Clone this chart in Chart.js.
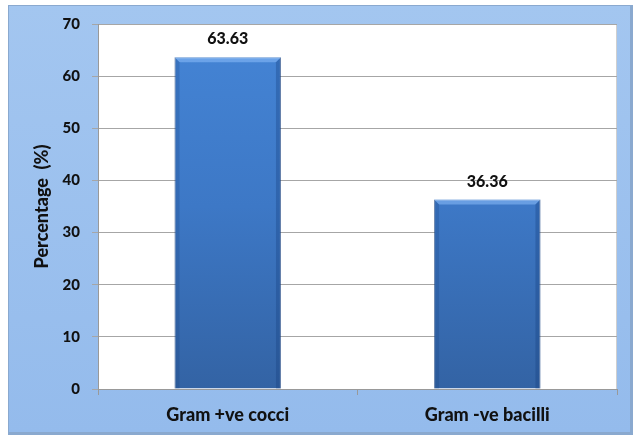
<!DOCTYPE html>
<html>
<head>
<meta charset="utf-8">
<script src="https://cdn.jsdelivr.net/npm/chart.js@4/dist/chart.umd.min.js"></script>
<style>
  html, body { margin: 0; padding: 0; background: #ffffff; }
  #wrap { width: 634px; height: 438px; position: relative; }
</style>
</head>
<body>
<div id="wrap"><canvas id="c" width="634" height="438"></canvas></div>
<script>
// Gram stain distribution of isolates
const categories = ['Gram +ve cocci', 'Gram -ve bacilli'];
const percentages = [63.63, 36.36];
const valueLabels = ['63.63', '36.36'];
const yTicks = [0, 10, 20, 30, 40, 50, 60, 70];

const FONT = 'Lato, "Open Sans", sans-serif';
const WEIGHT = '900';

// Blue panel behind the chart and white plotting area
const panelPlugin = {
  id: 'panel',
  beforeDraw(chart) {
    const ctx = chart.ctx;
    const a = chart.chartArea;
    ctx.save();
    ctx.fillStyle = '#ffffff';
    ctx.fillRect(0, 0, chart.width, chart.height);
    ctx.fillStyle = '#8AA9CF';
    ctx.fillRect(8, 5, 625, 430);
    const g = ctx.createLinearGradient(0, 5, 0, 434);
    g.addColorStop(0, '#A3C6F0');
    g.addColorStop(1, '#94BBEC');
    ctx.fillStyle = g;
    ctx.fillRect(9, 6, 621, 426);
    ctx.fillStyle = '#ffffff';
    ctx.fillRect(a.left, a.top, a.right - a.left, a.bottom - a.top);
    ctx.strokeStyle = '#CFCFCF';
    ctx.lineWidth = 1;
    ctx.beginPath();
    ctx.moveTo(a.right - 0.5, a.top);
    ctx.lineTo(a.right - 0.5, a.bottom);
    ctx.stroke();
    ctx.restore();
  }
};

// Bevelled edges on each bar, then the value above it
const barDecorPlugin = {
  id: 'barDecor',
  afterDatasetsDraw(chart) {
    const ctx = chart.ctx;
    const meta = chart.getDatasetMeta(0);
    ctx.save();
    meta.data.forEach((bar) => {
      const half = bar.width / 2;
      const l = bar.x - half, r = bar.x + half, t = bar.y, b = bar.base;
      const e = 5;
      // top bevel
      ctx.fillStyle = 'rgba(140,190,250,0.55)';
      ctx.beginPath();
      ctx.moveTo(l, t); ctx.lineTo(r, t); ctx.lineTo(r - e, t + e); ctx.lineTo(l + e, t + e);
      ctx.closePath(); ctx.fill();
      // left bevel
      ctx.fillStyle = 'rgba(20,60,120,0.22)';
      ctx.beginPath();
      ctx.moveTo(l, t); ctx.lineTo(l + e, t + e); ctx.lineTo(l + e, b); ctx.lineTo(l, b);
      ctx.closePath(); ctx.fill();
      // right bevel
      ctx.fillStyle = 'rgba(20,60,120,0.32)';
      ctx.beginPath();
      ctx.moveTo(r, t); ctx.lineTo(r - e, t + e); ctx.lineTo(r - e, b); ctx.lineTo(r, b);
      ctx.closePath(); ctx.fill();
    });
    ctx.font = WEIGHT + ' 16px ' + FONT;
    ctx.fillStyle = '#111111';
    ctx.textAlign = 'center';
    ctx.textBaseline = 'middle';
    meta.data.forEach((bar, i) => {
      ctx.fillText(valueLabels[i], bar.x, bar.y - 18);
    });
    ctx.restore();
  }
};

function barFill(context) {
  const chart = context.chart;
  const a = chart.chartArea;
  if (!a) return '#3F78C5';
  const g = chart.ctx.createLinearGradient(0, a.top, 0, a.bottom);
  g.addColorStop(0, '#4585D6');
  g.addColorStop(0.5, '#3D78C6');
  g.addColorStop(1, '#3363A4');
  return g;
}

new Chart(document.getElementById('c'), {
  type: 'bar',
  data: {
    labels: categories,
    datasets: [{
      data: percentages,
      backgroundColor: barFill,
      borderColor: 'rgba(40,80,140,0.6)',
      borderWidth: 1,
      categoryPercentage: 0.82,
      barPercentage: 0.5
    }]
  },
  options: {
    responsive: false,
    animation: false,
    devicePixelRatio: 1,
    layout: { padding: { left: 0, right: 17, top: 24, bottom: 0 } },
    plugins: { legend: { display: false }, tooltip: { enabled: false } },
    scales: {
      x: {
        afterFit(s) { s.height = 49; },
        grid: { display: true, offset: true, drawOnChartArea: false, tickLength: 6, color: '#999999' },
        border: { display: true, color: '#999999' },
        ticks: { color: '#111111', padding: 9, font: { family: FONT, size: 18, weight: WEIGHT } }
      },
      y: {
        min: 0, max: 70,
        afterFit(s) { s.width = 98; },
        afterBuildTicks(s) { s.ticks = yTicks.map(v => ({ value: v })); },
        grid: { color: '#A6A6A6', tickLength: 6 },
        border: { display: true, color: '#999999' },
        ticks: { color: '#111111', padding: 12, font: { family: FONT, size: 15, weight: WEIGHT } },
        title: {
          display: true,
          text: 'Percentage  (%)',
          color: '#111111',
          padding: { top: 31, bottom: 0 },
          font: { family: FONT, size: 18, weight: WEIGHT }
        }
      }
    }
  },
  plugins: [panelPlugin, barDecorPlugin]
});
</script>
</body>
</html>
